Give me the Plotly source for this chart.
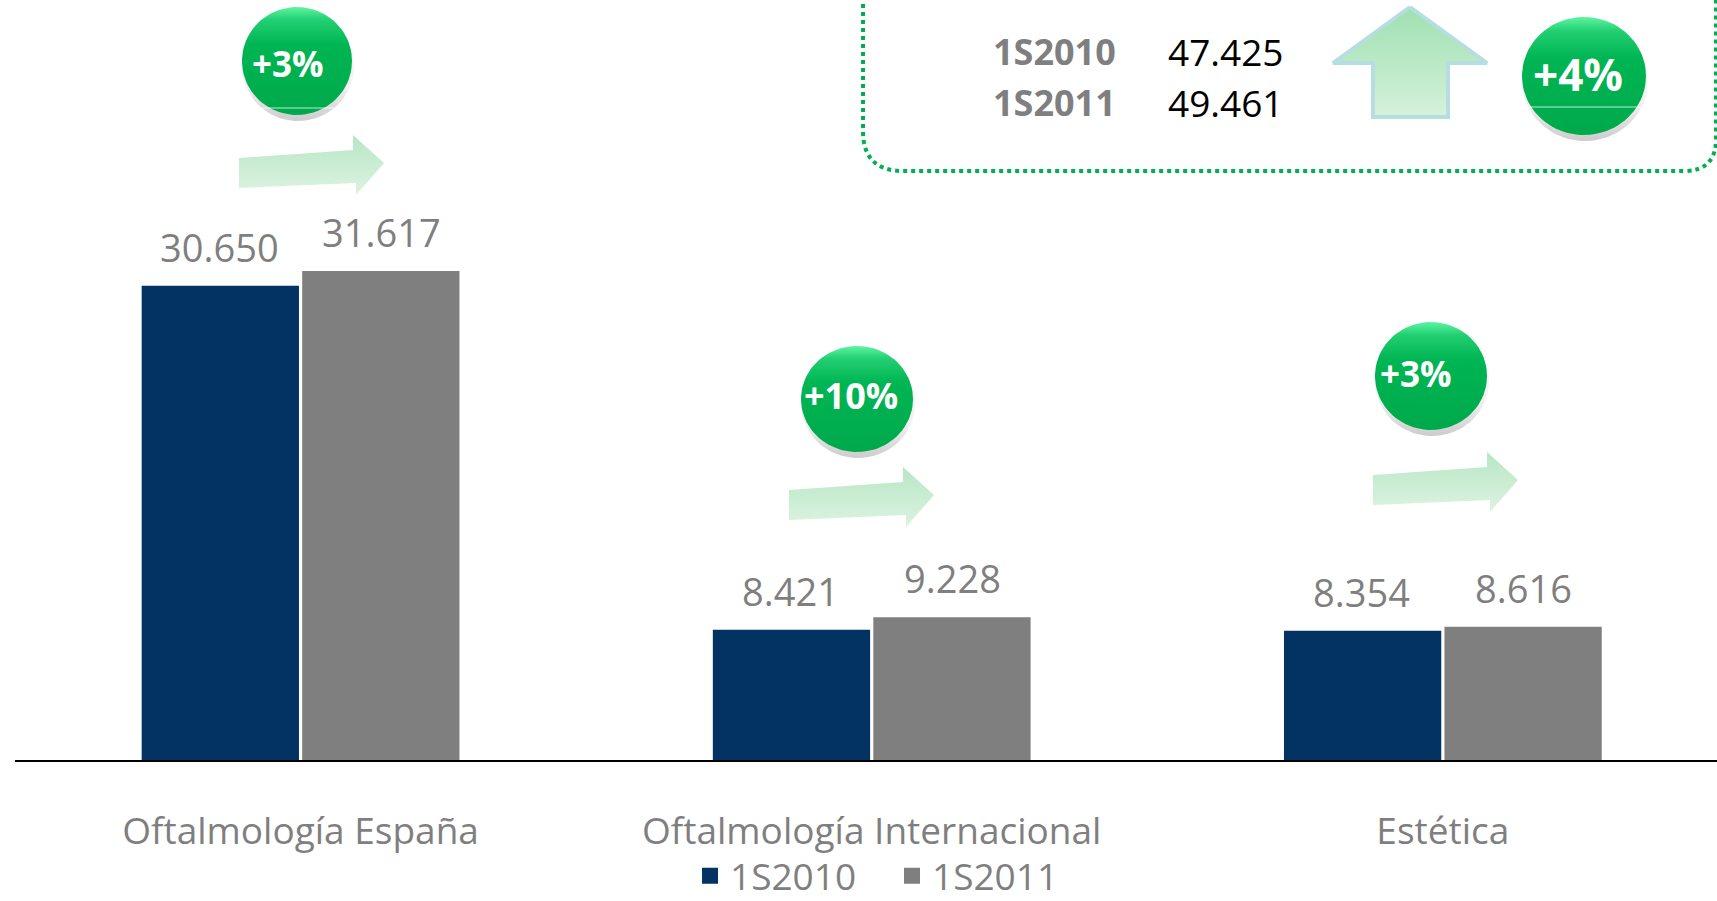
import numpy as np
import plotly.graph_objects as go

# data
categories = ["Oftalmología España", "Oftalmología Internacional", "Estética"]
serie_2010 = [30650, 8421, 8354]
serie_2011 = [31617, 9228, 8616]
labels_2010 = ["30.650", "8.421", "8.354"]
labels_2011 = ["31.617", "9.228", "8.616"]
growth = ["+3%", "+10%", "+3%"]
total_periods = ["1S2010", "1S2011"]
total_values = ["47.425", "49.461"]
total_growth = "+4%"

NAVY = "#023363"
GRAY = "#7f7f7f"
GREEN = "#00b050"
FONT = "Open Sans"

W, H = 1717, 901
L, R, T, B = 15, 0, 0, 141

fig = go.Figure()
fig.add_trace(go.Bar(name="1S2010", x=categories, y=serie_2010, showlegend=False,
                     marker=dict(color=NAVY, line=dict(width=0)), hoverinfo="skip"))
fig.add_trace(go.Bar(name="1S2011", x=categories, y=serie_2011, showlegend=False,
                     marker=dict(color=GRAY, line=dict(width=0)), hoverinfo="skip"))
# legend entries with bigger square keys
for name, col in (("1S2010", NAVY), ("1S2011", GRAY)):
    fig.add_trace(go.Scatter(name=name, x=[None], y=[None], mode="markers",
                             marker=dict(symbol="square", size=17, color=col)))

# value labels above the bars
for i, cat in enumerate(categories):
    for val, lab, dx in ((serie_2010[i], labels_2010[i], -81), (serie_2011[i], labels_2011[i], 81)):
        fig.add_annotation(x=cat, y=val, text=lab, xshift=dx, yshift=11, yanchor="bottom",
                           showarrow=False, font=dict(family=FONT, size=38, color=GRAY))


# decorations drawn on a pixel overlay (x2/y2)
def ellipse(cx, cy, rx, ry, n=90):
    t = np.linspace(0, 2 * np.pi, n)
    return cx + rx * np.cos(t), cy + ry * np.sin(t)


def poly(xs, ys, grad, line=None):
    fig.add_trace(go.Scatter(
        x=list(xs), y=list(ys), xaxis="x2", yaxis="y2", mode="lines", fill="toself",
        fillgradient=dict(type="vertical", colorscale=grad, start=min(ys), stop=max(ys)),
        line=line or dict(width=0, color="rgba(0,0,0,0)"),
        showlegend=False, hoverinfo="skip"))


def badge(cx, cy, rx, ry, text, tx, ty, size, shine=None):
    xs, ys = ellipse(cx + 1, cy + 5, rx + 1, ry + 1)
    poly(xs, ys, [[0, "rgba(0,0,0,0)"], [0.7, "rgba(0,0,0,0.06)"], [1, "rgba(0,0,0,0.2)"]])
    xs, ys = ellipse(cx, cy, rx, ry)
    poly(xs, ys, [[0, "#5cf5a2"], [0.12, "#22cf72"], [0.35, "#00b553"], [1, "#00a94b"]])
    if shine is not None:
        fig.add_shape(type="line", xref="x2", yref="y2", x0=cx - rx * 0.95, x1=cx + rx * 0.95,
                      y0=cy + shine, y1=cy + shine, line=dict(color="rgba(255,255,255,0.75)", width=1))
    fig.add_annotation(x=tx, y=ty, xref="x2", yref="y2", text="<b>%s</b>" % text, showarrow=False,
                       font=dict(family=FONT, size=size, color="white"))


def right_arrow(x0, y0):
    dx = [0, 114, 114, 145, 117, 117, 0, 0]
    dy = [0, -8, -23, 5, 37, 25, 30, 0]
    poly([x0 + a for a in dx], [y0 + b for b in dy],
         [[0, "#b8e6c4"], [1, "#dcf3e1"]])


badge_pos = [(297, 61, 55, 54, 288, 63, 35, 47), (857, 399, 56, 53, 851, 395, 36, None),
             (1431, 376, 56, 54, 1416, 373, 35, None)]
arrow_pos = [(239, 158), (789, 490), (1373, 475)]
for g, (cx, cy, rx, ry, tx, ty, sz, sh), (ax, ay) in zip(growth, badge_pos, arrow_pos):
    right_arrow(ax, ay)
    badge(cx, cy, rx, ry, g, tx, ty, sz, sh)

# total box
fig.add_shape(type="path", xref="x2", yref="y2",
              path="M 863,-20 L 863,131 Q 863,171 903,171 L 1684,171 Q 1716,171 1716,139 L 1716,-20",
              line=dict(color=GREEN, width=4, dash="dot"))
for j, (p, v) in enumerate(zip(total_periods, total_values)):
    yy = 51 + 51 * j
    fig.add_annotation(x=1054, y=yy, xref="x2", yref="y2", text="<b>%s</b>" % p, showarrow=False,
                       font=dict(family=FONT, size=36, color=GRAY))
    fig.add_annotation(x=1226, y=yy, xref="x2", yref="y2", text=v, showarrow=False,
                       font=dict(family=FONT, size=37, color="black"))

up_x = [1410, 1487, 1448, 1448, 1373, 1373, 1333, 1410]
up_y = [7, 63, 63, 117, 117, 63, 63, 7]
poly(up_x, up_y, [[0, "#9fe0b1"], [1, "#d6f1db"]], line=dict(color="#b6dee2", width=4))
badge(1584, 76, 62, 59, total_growth, 1578, 74, 44, 31)

fig.update_layout(
    width=W, height=H, margin=dict(l=L, r=R, t=T, b=B, autoexpand=False),
    paper_bgcolor="white", plot_bgcolor="white",
    barmode="group", bargap=0.438, bargroupgap=0.02,
    font=dict(family=FONT, color=GRAY),
    xaxis=dict(range=[-0.5, 2.48], showline=True, linecolor="black", linewidth=2,
               showgrid=False, ticks="", tickfont=dict(family=FONT, size=37, color=GRAY),
               ticklabelstandoff=38, fixedrange=True, automargin=False),
    yaxis=dict(range=[0, 49130], visible=False, fixedrange=True),
    xaxis2=dict(overlaying="x", anchor="y2", range=[L, W - R], visible=False, fixedrange=True),
    yaxis2=dict(overlaying="y", anchor="x2", range=[H - B, T], visible=False, fixedrange=True),
    legend=dict(orientation="h", x=0.3966, xanchor="left", y=-0.153, yanchor="middle",
                entrywidth=157, bgcolor="rgba(0,0,0,0)",
                font=dict(family=FONT, size=37, color=GRAY), traceorder="normal"),
    showlegend=True,
)

fig.write_html("out.html", config={"displayModeBar": False},
               post_script="document.body.style.margin='0';")
